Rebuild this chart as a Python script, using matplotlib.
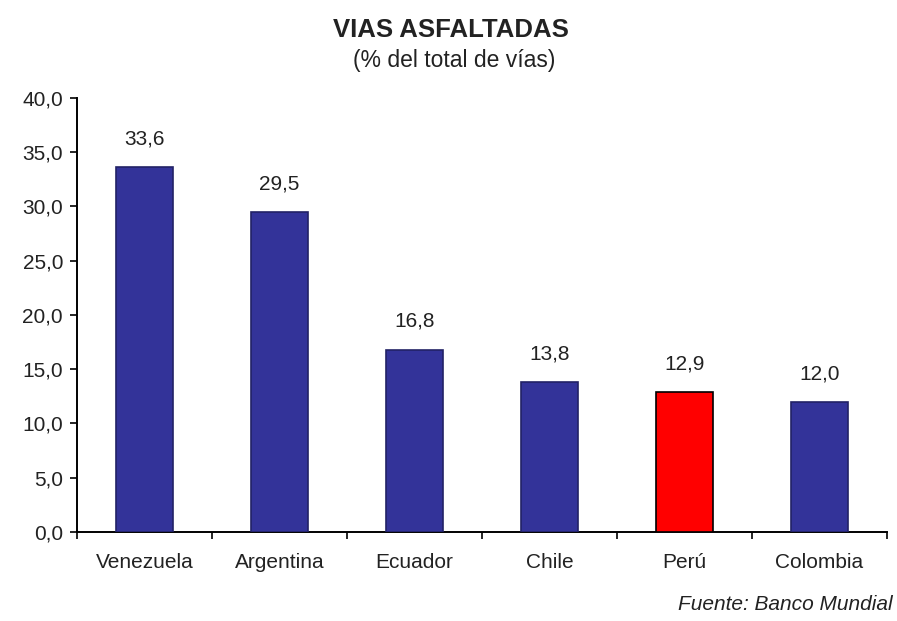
import numpy as np
from matplotlib import pyplot as plt
from matplotlib import ticker as tk

countries = ['Venezuela', 'Argentina', 'Ecuador', 'Chile', 'Perú', 'Colombia']
values = [33.6, 29.5, 16.8, 13.8, 12.9, 12.0]
highlight = 'Perú'

BLUE = '#333399'
RED = '#ff0000'

plt.rcParams['font.family'] = ['Liberation Sans', 'DejaVu Sans']

fig = plt.figure(figsize=(8.97, 6.21), dpi=100)
ax = fig.add_axes([0.0858, 0.1433, 0.903, 0.699])

x = np.arange(len(countries))
colors = [RED if c == highlight else BLUE for c in countries]
edges = ['black' if c == highlight else '#222266' for c in countries]
ax.bar(x, values, width=0.42, color=colors, edgecolor=edges, linewidth=1.2,
       zorder=3)

for xi, v in zip(x, values):
    ax.text(xi, v + 2.6, f'{v:.1f}'.replace('.', ','), ha='center',
            va='center', fontsize=15, color='#222222')

ax.set_xlim(-0.5, len(countries) - 0.5)
ax.set_ylim(0, 40)
ax.yaxis.set_major_locator(tk.MultipleLocator(5))
ax.yaxis.set_major_formatter(
    tk.FuncFormatter(lambda v, p: f'{v:.1f}'.replace('.', ',')))

ax.set_xticks(x)
ax.set_xticklabels(countries)
ax.set_xticks(np.arange(len(countries) + 1) - 0.5, minor=True)
ax.tick_params(axis='x', which='major', length=0, pad=15, labelsize=15,
               labelcolor='#222222')
ax.tick_params(axis='x', which='minor', length=5, width=1.2, direction='out')
ax.tick_params(axis='y', length=5, width=1.2, direction='out', labelsize=15,
               pad=5, labelcolor='#222222')

for s in ['top', 'right']:
    ax.spines[s].set_visible(False)
for s in ['left', 'bottom']:
    ax.spines[s].set_linewidth(1.4)

fig.text(0.503, 0.952, 'VIAS ASFALTADAS', ha='center', va='center',
         fontsize=18.5, fontweight='bold', color='#222222')
fig.text(0.506, 0.903, '(% del total de vías)', ha='center', va='center',
         fontsize=16.5, color='#222222')
fig.text(0.995, 0.026, 'Fuente: Banco Mundial', ha='right', va='center',
         fontsize=15, style='italic', color='#222222')

fig.savefig('out.png', dpi=100)
